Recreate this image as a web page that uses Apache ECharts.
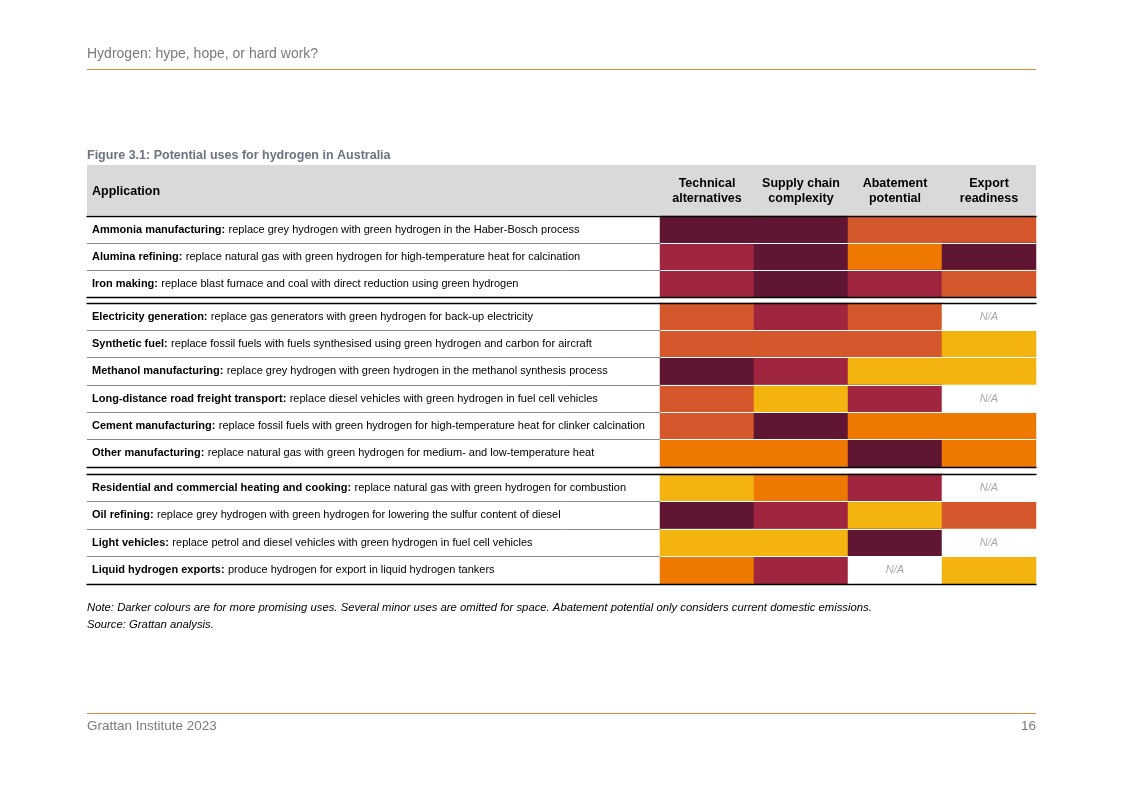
<!DOCTYPE html>
<html><head><meta charset="utf-8">
<script src="https://cdn.jsdelivr.net/npm/echarts@6/dist/echarts.min.js"></script>
<style>html,body{margin:0;padding:0;background:#fff}#c{width:1123px;height:794px}</style>
</head><body><div id="c"></div>
<script>
// ---- data ----
const columns = ['Technical\nalternatives', 'Supply chain\ncomplexity', 'Abatement\npotential', 'Export\nreadiness'];
// levels: 5 = darkest (most promising) ... 1 = lightest, 0 = N/A
const levelColors = ['#ffffff', '#F4B410', '#EE7800', '#D4582B', '#A0253F', '#601633'];

const group1Names = ['Ammonia manufacturing', 'Alumina refining', 'Iron making'];
const group1Desc = [
  'replace grey hydrogen with green hydrogen in the Haber-Bosch process',
  'replace natural gas with green hydrogen for high-temperature heat for calcination',
  'replace blast furnace and coal with direct reduction using green hydrogen'
];
const group1Levels = [[5, 5, 3, 3], [4, 5, 2, 5], [4, 5, 4, 3]];

const group2Names = ['Electricity generation', 'Synthetic fuel', 'Methanol manufacturing', 'Long-distance road freight transport', 'Cement manufacturing', 'Other manufacturing'];
const group2Desc = [
  'replace gas generators with green hydrogen for back-up electricity',
  'replace fossil fuels with fuels synthesised using green hydrogen and carbon for aircraft',
  'replace grey hydrogen with green hydrogen in the methanol synthesis process',
  'replace diesel vehicles with green hydrogen in fuel cell vehicles',
  'replace fossil fuels with green hydrogen for high-temperature heat for clinker calcination',
  'replace natural gas with green hydrogen for medium- and low-temperature heat'
];
const group2Levels = [[3, 4, 3, 0], [3, 3, 3, 1], [5, 4, 1, 1], [3, 1, 4, 0], [3, 5, 2, 2], [2, 2, 5, 2]];

const group3Names = ['Residential and commercial heating and cooking', 'Oil refining', 'Light vehicles', 'Liquid hydrogen exports'];
const group3Desc = [
  'replace natural gas with green hydrogen for combustion',
  'replace grey hydrogen with green hydrogen for lowering the sulfur content of diesel',
  'replace petrol and diesel vehicles with green hydrogen in fuel cell vehicles',
  'produce hydrogen for export in liquid hydrogen tankers'
];
const group3Levels = [[1, 2, 4, 0], [5, 4, 1, 3], [1, 1, 5, 0], [2, 4, 0, 1]];

// ---- layout ----
const FONT = 'Liberation Sans, Arial, sans-serif';
const groups = [
  { names: group1Names, desc: group1Desc, levels: group1Levels, top: 216, height: 81 },
  { names: group2Names, desc: group2Desc, levels: group2Levels, top: 303, height: 164 },
  { names: group3Names, desc: group3Desc, levels: group3Levels, top: 474, height: 110 }
];
const tableLeft = 87, tableRight = 1036, colLeft = 660;

const grid = [], xAxis = [], yAxis = [], series = [];
groups.forEach((g, gi) => {
  // rule grid (full table width): gray row separators + black top/bottom rules
  grid.push({ left: tableLeft, width: tableRight - tableLeft, top: g.top, height: g.height, containLabel: false });
  const rIdx = grid.length - 1;
  ['top', 'bottom'].forEach(pos => {
    xAxis.push({ gridIndex: rIdx, type: 'value', min: 0, max: 1, position: pos, z: 10,
      axisLine: { show: true, onZero: false, lineStyle: { color: '#000', width: 1.3 } },
      axisTick: { show: false }, axisLabel: { show: false }, splitLine: { show: false } });
  });
  yAxis.push({ gridIndex: rIdx, type: 'category', inverse: true, data: g.names,
    axisLine: { show: false }, axisTick: { show: false }, axisLabel: { show: false },
    splitLine: { show: true, lineStyle: { color: '#8a8a8a', width: 1 } } });

  // colour grid
  grid.push({ left: colLeft, width: tableRight - colLeft, top: g.top, height: g.height, containLabel: false });
  const cIdx = grid.length - 1;
  const xi = xAxis.length;
  xAxis.push({ gridIndex: cIdx, type: 'category', data: columns, position: 'top',
    axisLine: { show: false }, axisTick: { show: false }, splitLine: { show: false },
    axisLabel: { show: gi === 0, margin: 10, interval: 0, color: '#000', fontFamily: FONT,
      fontWeight: 'bold', fontSize: 12.5, lineHeight: 15, align: 'center' } });
  const yi = yAxis.length;
  yAxis.push({ gridIndex: cIdx, type: 'category', inverse: true, data: g.names, z: 5,
    axisLine: { show: false }, axisTick: { show: false },
    splitLine: { show: true, lineStyle: { color: '#ffffff', width: 1.2 } },
    axisLabel: { show: true, align: 'left', margin: colLeft - 92, interval: 0,
      formatter: (v, i) => '{b|' + v + ':} {n|' + g.desc[i] + '}',
      rich: {
        b: { fontWeight: 'bold', fontSize: 11, color: '#000', fontFamily: FONT },
        n: { fontSize: 11, color: '#000', fontFamily: FONT }
      } } });
  const data = [];
  g.levels.forEach((row, r) => row.forEach((lv, c) => data.push([c, r, lv])));
  series.push({ type: 'heatmap', xAxisIndex: xi, yAxisIndex: yi, data: data, z: 2,
    label: { show: true, formatter: p => p.value[2] === 0 ? 'N/A' : '',
      color: '#a8a8a8', fontStyle: 'italic', fontSize: 11, fontFamily: FONT },
    emphasis: { disabled: true }, itemStyle: { borderWidth: 0 } });
});

const option = {
  animation: false,
  backgroundColor: '#ffffff',
  textStyle: { fontFamily: FONT },
  visualMap: { type: 'piecewise', show: false, dimension: 2, seriesIndex: [0, 1, 2],
    pieces: levelColors.map((c, i) => ({ value: i, color: c })) },
  title: [
    { text: 'Hydrogen: hype, hope, or hard work?', left: 87, top: 47, padding: 0,
      textStyle: { fontSize: 14, fontWeight: 'normal', color: '#7a7a7a', fontFamily: FONT } },
    { text: 'Figure 3.1: Potential uses for hydrogen in Australia', left: 87, top: 149, padding: 0,
      textStyle: { fontSize: 12.5, fontWeight: 'bold', color: '#6b7280', fontFamily: FONT } },
    { text: 'Note: Darker colours are for more promising uses. Several minor uses are omitted for space. Abatement potential only considers current domestic emissions.', left: 87, top: 602, padding: 0,
      textStyle: { fontSize: 11.3, fontWeight: 'normal', fontStyle: 'italic', color: '#000', fontFamily: FONT } },
    { text: 'Source: Grattan analysis.', left: 87, top: 619, padding: 0,
      textStyle: { fontSize: 11.3, fontWeight: 'normal', fontStyle: 'italic', color: '#000', fontFamily: FONT } },
    { text: 'Grattan Institute 2023', left: 87, top: 719, padding: 0,
      textStyle: { fontSize: 13.5, fontWeight: 'normal', color: '#7a7a7a', fontFamily: FONT } },
    { text: '16', right: 87, top: 719, padding: 0,
      textStyle: { fontSize: 13.5, fontWeight: 'normal', color: '#7a7a7a', fontFamily: FONT } }
  ],
  graphic: [
    { type: 'rect', z: 100, shape: { x: 87, y: 69, width: 949, height: 1 }, style: { fill: '#E38A30' } },
    { type: 'rect', z: 100, shape: { x: 87, y: 713, width: 949, height: 1 }, style: { fill: '#E38A30' } },
    { type: 'rect', z: -1, shape: { x: 87, y: 165, width: 949, height: 50 }, style: { fill: '#d9d9d9' } },
    { type: 'text', x: 92, y: 192, style: { text: 'Application', fill: '#000',
      font: 'bold 12.5px Liberation Sans, Arial, sans-serif', verticalAlign: 'middle' } }
  ],
  grid: grid, xAxis: xAxis, yAxis: yAxis, series: series
};
const chart = echarts.init(document.getElementById('c'), null, { renderer: 'canvas' });
chart.setOption(option);
</script></body></html>
